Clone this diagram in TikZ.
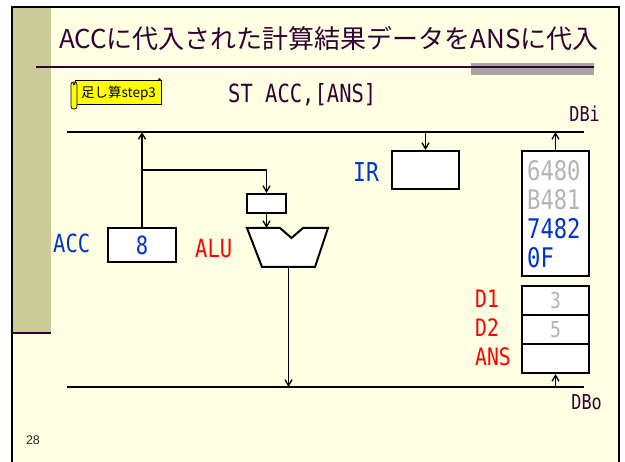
\documentclass[tikz,border=0pt]{standalone}
\usepackage{graphicx}
\usepackage{fontspec}
\setmainfont{Noto Sans CJK JP}
\newfontfamily\monofont{DejaVu Sans Mono}
\newfontfamily\arialfont{Liberation Sans}
\usetikzlibrary{arrows.meta}
\definecolor{bgy}{RGB}{255,255,227}
\definecolor{stripcol}{RGB}{204,204,153}
\definecolor{dpurp}{RGB}{51,0,51}
\definecolor{myblue}{RGB}{0,51,204}
\definecolor{myred}{RGB}{255,0,0}
\definecolor{mygray}{RGB}{180,180,180}
\definecolor{barg}{RGB}{166,166,166}
\definecolor{scrollyel}{RGB}{255,255,0}
\newcommand\hw[2]{{\fontsize{#1}{#1}\monofont\scalebox{0.82}[1]{#2}}}
\begin{document}
\begin{tikzpicture}[x=1pt,y=-1pt,
  box/.style={draw=black,line width=2pt,fill=white,inner sep=0pt},
  bus/.style={line width=2pt,black},
  conn/.style={line width=1.4pt,black,-{Straight Barb[length=6pt,width=7pt,line width=1.3pt]}},
  lbl/.style={inner sep=0pt}]
\useasboundingbox (0,0) rectangle (625,462);
\fill[white] (0,0) rectangle (625,462);
% slide background
\fill[bgy] (12,7) rectangle (619,462);
\fill[stripcol] (12,7) rectangle (51,333);
\draw[dpurp,line width=2pt] (12,333) -- (51,333);
\draw[black,line width=2.5pt] (12,462) -- (12,7) -- (619,7) -- (619,462);
% title
\node[lbl,anchor=base,text=dpurp,font=\fontsize{26}{27}\selectfont] (title) at (329,49) {ACCに代入された計算結果データをANSに代入};
\fill[barg] (471,63) rectangle (594,75);
\draw[dpurp,line width=1.5pt] (36,67) -- (594,67);
% scroll label
\fill[scrollyel,draw=black,line width=0.8pt] (75,80) rectangle (161,104);
\filldraw[fill=scrollyel,draw=black,line width=0.8pt,rounded corners=2.5pt] (71,82) rectangle (77,109);
\fill[black] (74,84) circle (1.4);
\fill[black] (159.5,79.5) circle (1.4);
\node[lbl,font=\fontsize{13.5}{14}\selectfont] (tag) at (118.5,93) {足し算step3};
% instruction
\node[lbl,anchor=base west,text=dpurp] (instr) at (228,103) {\hw{25}{ST ACC,[ANS]}};
% buses
\coordinate (dbiL) at (67,132);
\coordinate (dbiR) at (584,132);
\coordinate (dboL) at (67,387);
\coordinate (dboR) at (584,387);
\draw[bus] (dbiL) -- (dbiR);
\draw[bus] (dboL) -- (dboR);
\node[lbl,anchor=base east,text=dpurp] (dbi) at (600,122) {\hw{20.5}{DBi}};
\node[lbl,anchor=base east,text=dpurp] (dbo) at (602,410) {\hw{20.5}{DBo}};
% ACC
\node[box,minimum width=68pt,minimum height=34pt,text=myblue] (acc) at (142,245) {\hw{25}{8}};
\node[lbl,anchor=base west,text=myblue] (acclbl) at (53,253) {\hw{25}{ACC}};
% small register before ALU
\node[box,minimum width=39pt,minimum height=19pt] (reg) at (266.5,203.5) {};
% ALU
\filldraw[fill=white,draw=black,line width=2pt,line join=miter]
  (247,228) -- (280,228) -- (291.5,238) -- (303,228) -- (328,228) -- (315,267) -- (262,267) -- cycle;
\coordinate (alutop) at (266.5,228);
\coordinate (alubot) at (288.5,267);
\node[lbl,anchor=base west,text=myred] (alulbl) at (195,258) {\hw{25}{ALU}};
% IR
\node[box,minimum width=67pt,minimum height=38pt] (ir) at (425.5,170) {};
\node[lbl,anchor=base west,text=myblue] (irlbl) at (353,182) {\hw{26}{IR}};
% memory
\node[box,minimum width=67pt,minimum height=125pt] (mem) at (555.5,213.5) {};
\node[lbl,anchor=base west,text=mygray] (m1) at (527,181) {\hw{27}{6480}};
\node[lbl,anchor=base west,text=mygray] (m2) at (527,210) {\hw{27}{B481}};
\node[lbl,anchor=base west,text=myblue] (m3) at (527,239) {\hw{27}{7482}};
\node[lbl,anchor=base west,text=myblue] (m4) at (527,268) {\hw{27}{0F}};
% data area
\node[box,minimum width=67pt,minimum height=29pt,text=mygray] (d1) at (555.5,300.5) {\hw{22}{3}};
\node[box,minimum width=67pt,minimum height=29pt,text=mygray] (d2) at (555.5,329.5) {\hw{22}{5}};
\node[box,minimum width=67pt,minimum height=29pt] (ans) at (555.5,358.5) {};
\node[lbl,anchor=base west,text=myred] (d1lbl) at (475,308) {\hw{24}{D1}};
\node[lbl,anchor=base west,text=myred] (d2lbl) at (475,337) {\hw{24}{D2}};
\node[lbl,anchor=base west,text=myred] (anslbl) at (475,366) {\hw{24}{ANS}};
% connectors
\coordinate (j) at (142,170);
\draw[conn] (acc.north) -- (acc.north |- dbiL);
\draw[conn] (j) -| (reg.north);
\draw[conn] (reg.south) -- (alutop);
\draw[conn] (alubot) -- (alubot |- dboL);
\draw[conn] (ir.north |- dbiL) -- (ir.north);
\draw[conn] (mem.north) -- (mem.north |- dbiL);
\draw[conn] (ans.south |- dboL) -- (ans.south);
% page number
\node[lbl,font=\arialfont\fontsize{12.5}{13}\selectfont,text=black!85] (pg) at (33,440) {28};
\end{tikzpicture}
\end{document}
